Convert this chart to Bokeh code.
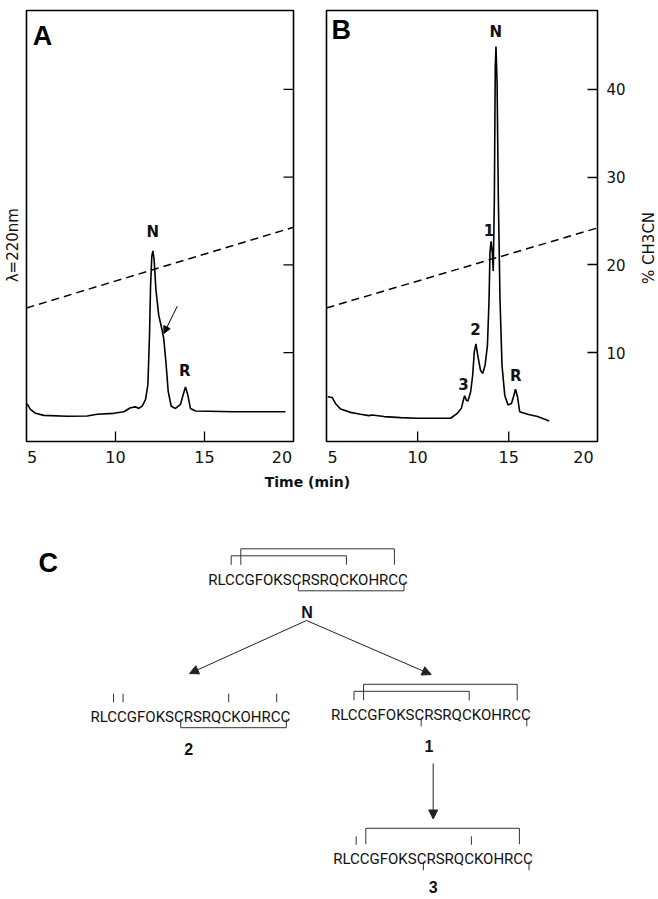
import math
from bokeh.plotting import figure
from bokeh.models import (Range1d, LinearAxis, FixedTicker, ColumnDataSource,
                          Arrow, NormalHead)
from bokeh.layouts import column, row
from bokeh.embed import file_html
from bokeh.resources import INLINE
from bokeh.core.properties import value

# ---------------- data: chromatograms ----------------
a_time = [5.04, 5.22, 5.51, 5.97, 7.29, 8.41, 8.97, 9.90, 10.47, 10.84, 11.12, 11.31, 11.50,
          11.69, 11.82, 11.91, 11.97, 12.04, 12.10, 12.17, 12.27, 12.43, 12.62, 12.71, 12.83,
          12.96, 13.13, 13.37, 13.65, 13.80, 13.93, 14.06, 14.21, 14.49, 16.65, 19.55]
a_signal = [4.17, 3.54, 3.09, 2.86, 2.75, 2.79, 2.98, 3.09, 3.27, 3.72, 3.83, 3.65, 3.91,
            4.67, 6.36, 12.0, 17.6, 21.0, 21.6, 20.6, 17.2, 14.25, 12.56, 11.6, 9.0,
            5.6, 3.9, 3.65, 4.1, 5.2, 6.1, 5.2, 3.65, 3.35, 3.27, 3.27]

b_time = [5.07, 5.31, 5.49, 5.77, 6.32, 6.87, 7.33, 7.51, 8.15, 9.07, 9.98, 11.81, 12.18,
          12.40, 12.51, 12.58, 12.67, 12.76, 12.91, 13.02, 13.11, 13.20, 13.30, 13.45, 13.57,
          13.70, 13.83, 13.92, 13.97, 14.03, 14.10, 14.15, 14.21, 14.26, 14.30, 14.36, 14.43,
          14.52, 14.63, 14.78, 14.96, 15.15, 15.26, 15.37, 15.48, 15.60, 16.03, 16.58, 17.22]
b_signal = [4.98, 4.9, 4.22, 3.58, 3.2, 2.98, 2.83, 2.9, 2.72, 2.6, 2.53, 2.53, 3.09,
            3.66, 4.6, 5.1, 4.6, 4.48, 5.55, 7.43, 10.1, 11.0, 9.7, 8.0, 7.62,
            8.56, 10.8, 16.1, 21.4, 22.7, 21.4, 19.3, 27.4, 42.5, 44.9, 40.7, 27.4,
            16.1, 8.56, 5.16, 4.03, 4.22, 4.98, 5.84, 4.98, 3.28, 2.98, 2.72, 2.22]

gradient_time = [5, 20]
gradient_pct = [15.1, 24.3]

pct_ticks = [10, 20, 30, 40]
time_ticks = [10, 15]
time_tick_labels = ["5", "10", "15", "20"]
time_label_pos_a = [5.31, 10, 15, 19.35]
time_label_pos_b = [5.33, 10, 15, 19.1]

a_peak_labels = ["N", "R"]
a_peak_t = [12.10, 13.89]
a_peak_v = [23.75, 7.86]
b_peak_labels = ["N", "1", "2", "3", "R"]
b_peak_t = [14.29, 13.92, 13.18, 12.51, 15.38]
b_peak_v = [46.5, 24.0, 12.7, 6.4, 7.3]

left_axis_title = "λ=220nm"
right_axis_title = "% CH3CN"

# ---------------- data: disulfide scheme ----------------
sequence = "RLCCGFOKSCRSRQCKOHRCC"
forms = ["N", "2", "1", "3"]
bonds_above = {"N": [(2, 14, 1), (3, 19, 2)], "2": [], "1": [(2, 14, 1), (3, 19, 2)], "3": [(3, 19, 2)]}
bonds_below = {"N": [(9, 20)], "2": [(9, 20)], "1": [], "3": []}
free_above = {"N": [], "2": [2, 3, 14, 19], "1": [], "3": [2, 14]}
free_below = {"N": [], "2": [], "1": [9, 20], "3": [9, 20]}
pathways = [("N", "2"), ("N", "1"), ("1", "3")]

# ---------------- layout constants ----------------
TOP_H = 472
L_W, A_W, B_W, R_W = 20, 289, 329, 20
C_W, C_H = 658, 426
INK = "#111111"
NUM_FONT = "DejaVu Sans"
Y_LO, Y_HI = -0.12, 49.0

# scheme layout (pixel space of panel C, page coordinates)
seq_left = {"N": 206.7, "2": 89.0, "1": 329.5, "3": 331.7}
seq_base = {"N": 579.3, "2": 716.2, "1": 714.8, "3": 858.8}
pitch = 9.6
cap = 11.0
form_label_xy = {"N": (306.5, 611.7), "2": (188.3, 748.0), "1": (428.4, 745.0), "3": (432.7, 886.0)}
arrow_xy = {("N", "2"): (306.0, 620.0, 189.0, 673.0),
            ("N", "1"): (306.0, 620.0, 430.7, 674.0),
            ("1", "3"): (432.7, 763.0, 432.7, 818.5)}


def blank(width, height, x0):
    p = figure(width=width, height=height, x_range=Range1d(x0, x0 + width), y_range=Range1d(0, height),
               x_axis_location=None, y_axis_location=None, toolbar_location=None,
               output_backend="svg", min_border_left=0, min_border_right=0,
               min_border_top=0, min_border_bottom=0)
    for g in p.grid:
        g.visible = False
    p.outline_line_color = None
    return p


def chrom_panel(width, time_end, min_left, min_right, min_top, min_bottom, label_pos, show_pct):
    p = figure(width=width, height=TOP_H, x_range=Range1d(5, time_end), y_range=Range1d(Y_LO, Y_HI),
               x_axis_location=None, y_axis_location=None, toolbar_location=None,
               output_backend="svg", min_border_left=min_left, min_border_right=min_right,
               min_border_top=min_top, min_border_bottom=min_bottom)
    for g in p.grid:
        g.visible = False
    p.outline_line_color = "black"
    p.outline_line_width = 1.6

    # inward tick marks on the time axis (half of each dash is clipped by the frame)
    p.scatter(x=time_ticks, y=[Y_LO] * len(time_ticks), marker="dash", size=20, angle=math.pi / 2,
              line_color="black", line_width=1.3)

    lab_ax = LinearAxis(ticker=FixedTicker(ticks=label_pos),
                        major_label_overrides={pos: lab for pos, lab in zip(label_pos, time_tick_labels)},
                        major_tick_in=0, major_tick_out=0, major_tick_line_color=None,
                        axis_line_color=None, major_label_standoff=9,
                        major_label_text_font=NUM_FONT, major_label_text_font_size="16px",
                        major_label_text_color=INK)
    p.add_layout(lab_ax, "below")

    if show_pct:
        r_ax = LinearAxis(ticker=FixedTicker(ticks=pct_ticks), major_tick_in=10, major_tick_out=0,
                          axis_line_color=None, major_tick_line_color="black", major_tick_line_width=1.3,
                          major_label_standoff=9, major_label_text_font=NUM_FONT,
                          major_label_text_font_size="15px", major_label_text_color=INK)
        p.add_layout(r_ax, "right")
    else:
        p.scatter(x=[time_end] * len(pct_ticks), y=pct_ticks, marker="dash", size=20,
                  line_color="black", line_width=1.3)

    p.line(gradient_time, gradient_pct, line_color="black", line_width=1.5, line_dash="8 5")
    return p


# side strips carrying the rotated axis titles
pL = blank(L_W, TOP_H, 0)
pL.text(x=[12], y=[TOP_H - 257], text=[left_axis_title], angle=math.pi / 2, text_font=value(NUM_FONT),
        text_font_size="15px", text_align="center", text_baseline="middle", text_color=INK)
pR = blank(R_W, TOP_H, L_W + A_W + B_W)
pR.text(x=[648], y=[TOP_H - 260], text=[right_axis_title], angle=math.pi / 2, text_font=value(NUM_FONT),
        text_font_size="15px", text_align="center", text_baseline="middle", text_color=INK)

pA = chrom_panel(A_W, 20.0, 26 - L_W, 16, 5, 31, time_label_pos_a, False)
pA.line(a_time, a_signal, line_color="black", line_width=1.6)
pA.text(x=a_peak_t, y=a_peak_v, text=a_peak_labels, text_font=value(NUM_FONT), text_font_style="bold",
        text_font_size="15px", text_align="center", text_baseline="middle", text_color=INK)
pA.text(x=[5.9], y=[46.1], text=["A"], text_font=value("Liberation Sans"), text_font_style="bold",
        text_font_size="27px", text_align="center", text_baseline="middle", text_color="black")
pA.add_layout(Arrow(end=NormalHead(size=7, fill_color="black", line_color="black"),
                    x_start=13.47, y_start=15.3, x_end=12.72, y_end=12.2,
                    line_width=1, line_color="black"))

pB = chrom_panel(B_W, 19.87, 17, 41, 10, 29, time_label_pos_b, True)
pB.line(b_time, b_signal, line_color="black", line_width=1.6)
pB.text(x=b_peak_t, y=b_peak_v, text=b_peak_labels, text_font=value(NUM_FONT), text_font_style="bold",
        text_font_size="15px", text_align="center", text_baseline="middle", text_color=INK)
pB.text(x=[5.81], y=[46.8], text=["B"], text_font=value("Liberation Sans"), text_font_style="bold",
        text_font_size="27px", text_align="center", text_baseline="middle", text_color="black")

# ---------------- panel C ----------------
pC = figure(width=C_W, height=C_H, x_range=Range1d(0, C_W), y_range=Range1d(TOP_H + C_H, TOP_H),
            x_axis_location=None, y_axis_location=None, toolbar_location=None,
            output_backend="svg", min_border_left=0, min_border_right=0,
            min_border_top=0, min_border_bottom=0)
for g in pC.grid:
    g.visible = False
pC.outline_line_color = None

pC.text(x=[47.7], y=[562.5], text=["C"], text_font=value("Liberation Sans"), text_font_style="bold",
        text_font_size="27px", text_align="center", text_baseline="middle", text_color="black")
pC.text(x=[307.0], y=[481.0], text=["Time (min)"], text_font=value(NUM_FONT), text_font_style="bold",
        text_font_size="14px", text_align="center", text_baseline="middle", text_color=INK)

seq_x, seq_y, seq_t = [], [], []
xs, ys = [], []
for f in forms:
    x0, base = seq_left[f], seq_base[f]
    cx = lambda i: x0 + (i + 0.5) * pitch
    seq_x.append(x0 + len(sequence) * pitch / 2)
    seq_y.append(base)
    seq_t.append(sequence)
    top = base - cap
    for (i, j, lvl) in bonds_above[f]:
        yl = top - (13 if lvl == 1 else 20)
        xs.append([cx(i), cx(i), cx(j), cx(j)])
        ys.append([top - 4, yl, yl, top - 4])
    for i in free_above[f]:
        xs.append([cx(i), cx(i)])
        ys.append([top - 3.5, top - 12])
    for (i, j) in bonds_below[f]:
        xs.append([cx(i), cx(i), cx(j), cx(j)])
        ys.append([base + 2.5, base + 11, base + 11, base + 2.5])
    for i in free_below[f]:
        xs.append([cx(i), cx(i)])
        ys.append([base + 2.5, base + 11])

pC.multi_line(xs=xs, ys=ys, line_color="#333333", line_width=1)
pC.text(x=seq_x, y=seq_y, text=seq_t, text_font=value("Roboto"),
        text_font_size="15px", text_align="center", text_baseline="alphabetic", text_color=INK)

lab_src = ColumnDataSource(dict(x=[form_label_xy[f][0] for f in forms],
                                y=[form_label_xy[f][1] for f in forms], t=forms))
pC.text(x="x", y="y", text="t", source=lab_src, text_font=value("Liberation Sans"),
        text_font_style="bold", text_font_size="16px", text_align="center",
        text_baseline="middle", text_color=INK)

for pw in pathways:
    x1, y1, x2, y2 = arrow_xy[pw]
    pC.add_layout(Arrow(end=NormalHead(size=9, fill_color="#222222", line_color="#222222"),
                        x_start=x1, y_start=y1, x_end=x2, y_end=y2,
                        line_width=1, line_color="#222222"))

layout = column(row(pL, pA, pB, pR), pC)
open("out.html", "w").write(file_html(layout, INLINE))
